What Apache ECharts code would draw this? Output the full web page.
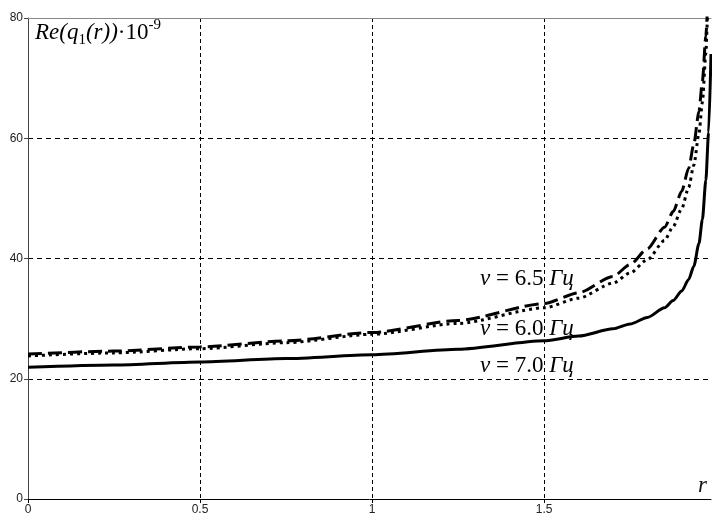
<!DOCTYPE html>
<html>
<head>
<meta charset="utf-8">
<script src="https://cdn.jsdelivr.net/npm/echarts@6/dist/echarts.min.js"></script>
<style>
html,body{margin:0;padding:0;background:#fff;}
#chart{width:712px;height:516px;}
</style>
</head>
<body>
<div id="chart"></div>
<script>
// r values and Re(q1(r))·10^-9 for each frequency
var r70 = [0, 0.25, 0.5, 0.75, 1.0, 1.25, 1.5, 1.6, 1.7, 1.75, 1.8, 1.85, 1.875, 1.9, 1.92, 1.935, 1.95, 1.96, 1.97, 1.978, 1.985];
var v70 = [21.9, 22.3, 22.8, 23.35, 24.0, 24.9, 26.3, 27.1, 28.3, 29.1, 30.2, 31.8, 33.0, 34.6, 36.5, 38.7, 42.5, 46.5, 53.0, 61.0, 74.0];

var r65 = [0, 0.25, 0.5, 0.75, 1.0, 1.25, 1.5, 1.6, 1.7, 1.75, 1.8, 1.85, 1.875, 1.9, 1.92, 1.935, 1.95, 1.96, 1.97, 1.975];
var v65 = [24.1, 24.6, 25.3, 26.3, 27.7, 29.7, 32.5, 34.3, 37.0, 39.0, 41.6, 45.2, 47.8, 51.2, 55.0, 59.0, 64.5, 69.5, 77.0, 82.0];

var r60 = [0, 0.25, 0.5, 0.75, 1.0, 1.25, 1.5, 1.6, 1.7, 1.75, 1.8, 1.85, 1.875, 1.9, 1.92, 1.935, 1.95, 1.96, 1.97, 1.975, 1.98];
var v60 = [23.8, 24.3, 25.0, 26.0, 27.4, 29.2, 31.8, 33.4, 35.9, 37.6, 39.8, 43.0, 45.3, 48.3, 51.8, 55.5, 60.8, 66.0, 74.0, 80.0, 87.0];

var xTicks = [0, 0.5, 1, 1.5];
var yTicks = [0, 20, 40, 60, 80];
var labels = ['6.5', '6.0', '7.0'];

function pairs(xs, ys){ return xs.map(function(x,i){ return [x, ys[i]]; }); }

var serif = 'Liberation Serif';
var richLbl = {
  g: {fontFamily: serif, fontStyle: 'italic', fontSize: 23, color: '#111', lineHeight: 26},
  n: {fontFamily: serif, fontSize: 23, color: '#111', lineHeight: 26}
};
function lblText(v){ return '{g|ν}{n| = ' + v + ' }{g|Гц}'; }

var chart = echarts.init(document.getElementById('chart'));
chart.setOption({
  animation: false,
  backgroundColor: '#fff',
  grid: {left: 28, right: 1, top: 18, bottom: 17, containLabel: false},
  xAxis: [{
    type: 'value', min: 0, max: 1.985, interval: 0.5,
    axisLine: {show: true, onZero: false, lineStyle: {color: '#000', width: 1}},
    axisTick: {show: true, length: 4, lineStyle: {color: '#000'}},
    axisLabel: {fontFamily: 'Liberation Sans', fontSize: 12, color: '#222', margin: 5, showMaxLabel: false,
      formatter: function(v){ return xTicks.indexOf(v) >= 0 ? String(v) : ''; }},
    splitLine: {show: true, showMinLine: false, showMaxLine: false, lineStyle: {color: '#000', type: [4, 3], width: 1}}
  }, {
    type: 'value', min: 0, max: 1.985, position: 'top',
    axisLine: {show: true, onZero: false, lineStyle: {color: '#888', width: 1}},
    axisTick: {show: false}, axisLabel: {show: false}, splitLine: {show: false}
  }],
  yAxis: {
    type: 'value', min: 0, max: 80, interval: 20,
    axisLine: {show: true, onZero: false, lineStyle: {color: '#444', width: 1}},
    axisTick: {show: true, length: 4, lineStyle: {color: '#444'}},
    axisLabel: {fontFamily: 'Liberation Sans', fontSize: 12, color: '#222', margin: 5,
      formatter: function(v){ return yTicks.indexOf(v) >= 0 ? String(v) : ''; }},
    splitLine: {show: true, showMinLine: false, showMaxLine: false, lineStyle: {color: '#000', type: [5, 4], width: 1}}
  },
  series: [{
    type: 'line', name: '7.0', data: pairs(r70, v70), showSymbol: false, clip: true, smooth: 0.25, smoothMonotone: 'x',
    lineStyle: {color: '#000', width: 3, type: 'solid'}
  }, {
    type: 'line', name: '6.5', data: pairs(r65, v65), showSymbol: false, clip: true, smooth: 0.25, smoothMonotone: 'x',
    lineStyle: {color: '#000', width: 3, type: [14, 6], cap: 'butt'}
  }, {
    type: 'line', name: '6.0', data: pairs(r60, v60), showSymbol: false, clip: true, smooth: 0.25, smoothMonotone: 'x',
    lineStyle: {color: '#000', width: 3, type: [3, 4], cap: 'butt'}
  }],
  graphic: [{
    type: 'text', left: 35, top: 18, z: 10,
    style: {
      text: '{i|Re(q}{sub|1}{i|(r))}{n|·10}{sup|-9}',
      rich: {
        i: {fontFamily: serif, fontStyle: 'italic', fontSize: 23, color: '#111', lineHeight: 30},
        n: {fontFamily: serif, fontSize: 23, color: '#111', lineHeight: 30},
        sub: {fontFamily: serif, fontSize: 15, color: '#111', lineHeight: 14, verticalAlign: 'bottom'},
        sup: {fontFamily: serif, fontSize: 15, color: '#111', lineHeight: 20, verticalAlign: 'top'}
      }
    }
  }, {
    type: 'text', left: 480, top: 267, z: 10,
    style: {text: lblText(labels[0]), rich: richLbl}
  }, {
    type: 'text', left: 480, top: 317, z: 10,
    style: {text: lblText(labels[1]), rich: richLbl}
  }, {
    type: 'text', left: 480, top: 354, z: 10,
    style: {text: lblText(labels[2]), rich: richLbl}
  }, {
    type: 'text', left: 698, top: 474, z: 10,
    style: {text: 'r', fontFamily: serif, fontStyle: 'italic', fontSize: 23, fill: '#111'}
  }]
});
</script>
</body>
</html>
